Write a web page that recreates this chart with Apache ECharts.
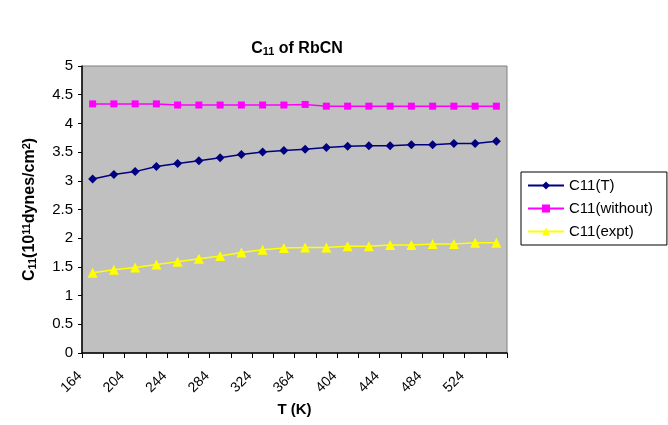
<!DOCTYPE html>
<html>
<head>
<meta charset="utf-8">
<script src="https://cdn.jsdelivr.net/npm/echarts@6/dist/echarts.min.js"></script>
<style>
  html, body { margin: 0; padding: 0; background: #fff; }
  #chart { width: 668px; height: 425px; }
</style>
</head>
<body>
<div id="chart"></div>
<script>
// Temperature categories (K)
const temperatures = ['164','184','204','224','244','264','284','304','324','344',
                      '364','384','404','424','444','464','484','504','524','544'];

// C11 elastic constant values, 10^11 dynes/cm^2
const c11T = [3.03, 3.11, 3.16, 3.25, 3.30, 3.35, 3.40, 3.46, 3.50, 3.53,
              3.55, 3.58, 3.60, 3.61, 3.61, 3.63, 3.63, 3.65, 3.65, 3.69];
const c11Without = [4.34, 4.34, 4.34, 4.34, 4.32, 4.32, 4.32, 4.32, 4.32, 4.32,
                    4.33, 4.30, 4.30, 4.30, 4.30, 4.30, 4.30, 4.30, 4.30, 4.30];
const c11Expt = [1.40, 1.45, 1.49, 1.54, 1.59, 1.64, 1.69, 1.75, 1.80, 1.83,
                 1.84, 1.84, 1.86, 1.86, 1.88, 1.88, 1.90, 1.90, 1.92, 1.92];

const yTicks = ['0','0.5','1','1.5','2','2.5','3','3.5','4','4.5','5'];

const FONT = 'Liberation Sans, Arial, sans-serif';

const chart = echarts.init(document.getElementById('chart'), null, { renderer: 'canvas' });

function lineSeries(name, data, color, symbol, size) {
  return {
    name: name,
    type: 'line',
    data: data,
    symbol: symbol,
    symbolSize: size,
    lineStyle: { color: color, width: 1.5 },
    itemStyle: { color: color },
    animation: false
  };
}

chart.setOption({
  backgroundColor: '#ffffff',
  title: {
    text: '{b|C}{s|11}{b| of RbCN}',
    left: 292,
    textAlign: 'center',
    top: 35,
    textStyle: {
      rich: {
        b: { fontFamily: FONT, fontWeight: 'bold', fontSize: 16, color: '#000' },
        s: { fontFamily: FONT, fontWeight: 'bold', fontSize: 11, color: '#000', verticalAlign: 'bottom', padding: [6, 0, 0, 0] }
      }
    }
  },
  legend: {
    orient: 'vertical',
    left: 521,
    top: 172,
    padding: [6, 14, 6, 6],
    itemGap: 8,
    itemWidth: 36,
    itemHeight: 10,
    backgroundColor: '#ffffff',
    borderColor: '#000000',
    borderWidth: 1,
    textStyle: { fontFamily: FONT, fontSize: 15, color: '#000' },
    data: ['C11(T)', 'C11(without)', 'C11(expt)']
  },
  grid: {
    left: 82, right: 161, top: 66, bottom: 72,
    show: true,
    backgroundColor: '#C0C0C0',
    borderColor: '#808080',
    borderWidth: 1
  },
  xAxis: {
    type: 'category',
    data: temperatures,
    boundaryGap: true,
    name: 'T (K)',
    nameLocation: 'middle',
    nameGap: 49,
    nameTextStyle: { fontFamily: FONT, fontWeight: 'bold', fontSize: 15, color: '#000' },
    axisLine: { lineStyle: { color: '#000', width: 1.5 } },
    axisTick: { show: true, interval: 0, length: 5, lineStyle: { color: '#000' } },
    axisLabel: {
      interval: 1,
      rotate: 45,
      fontFamily: FONT,
      fontSize: 14,
      color: '#000',
      margin: 8,
      padding: [0, 18, 0, 0]
    },
    splitLine: { show: false }
  },
  yAxis: {
    type: 'value',
    min: 0,
    max: 5,
    interval: 0.5,
    name: '{b|C}{s|11}{b|(10}{p|11}{b|dynes/cm}{p|2}{b|)}',
    nameLocation: 'middle',
    nameRotate: 90,
    nameGap: 44,
    nameTextStyle: {
      rich: {
        b: { fontFamily: FONT, fontWeight: 'bold', fontSize: 16, color: '#000' },
        s: { fontFamily: FONT, fontWeight: 'bold', fontSize: 11, color: '#000', verticalAlign: 'bottom', padding: [6, 0, 0, 0] },
        p: { fontFamily: FONT, fontWeight: 'bold', fontSize: 11, color: '#000', verticalAlign: 'top', padding: [0, 0, 6, 0] }
      }
    },
    axisLine: { show: true, lineStyle: { color: '#000', width: 1.5 } },
    axisTick: { show: true, length: 4, lineStyle: { color: '#000' } },
    axisLabel: {
      fontFamily: FONT,
      fontSize: 15,
      color: '#000',
      margin: 9,
      formatter: function (v) {
        const i = Math.round(v / 0.5);
        return yTicks[i] !== undefined ? yTicks[i] : String(v);
      }
    },
    splitLine: { show: false }
  },
  series: [
    lineSeries('C11(T)', c11T, '#000080', 'diamond', 9),
    lineSeries('C11(without)', c11Without, '#FF00FF', 'rect', 7),
    lineSeries('C11(expt)', c11Expt, '#FFFF00', 'triangle', 10)
  ]
});
</script>
</body>
</html>
